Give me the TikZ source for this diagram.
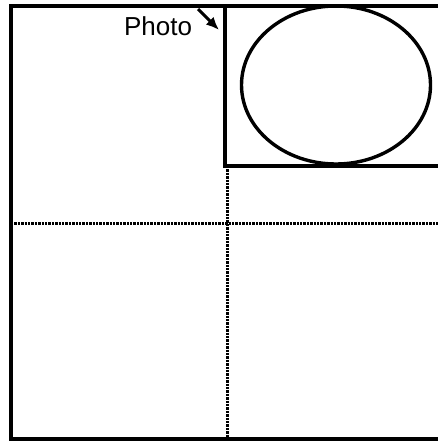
\documentclass[tikz,border=0pt]{standalone}
\usepackage{fontspec}
\setmainfont{Liberation Sans}
\usetikzlibrary{arrows.meta,calc,positioning,shapes.geometric}

\begin{document}
\begin{tikzpicture}[x=1pt,y=-1pt,>={Latex[length=13pt,width=11pt]},
  frame/.style={line width=3.4pt},
  grid/.style={line width=3pt,dash pattern=on 2.4pt off 1pt},
  lbl/.style={font=\fontsize{26}{30}\selectfont,inner sep=0pt}]
\useasboundingbox (0,0) rectangle (438,441);
% outer page and photo frame
\draw[frame] (470,6) -- (11,6) -- (11,439) -- (470,439);
\draw[frame] (225,6) rectangle (470,166);
\node[draw,ellipse,frame,minimum width=189pt,minimum height=158pt]
  (pic) at (336,85) {};
% quarter lines
\coordinate (vtop) at (227,166);
\coordinate (vbot) at (227,439);
\coordinate (hleft) at (11,223);
\coordinate (hright) at (440,223);
\draw[grid] (vtop) -- (vbot);
\draw[grid] (hleft) -- (hright);
% label
\node[lbl] (photo) at (158,26) {Photo};
\coordinate (tail) at (198,9);
\coordinate (tip) at (219,30);
\draw[->,line width=3pt] (tail) -- (tip);
\end{tikzpicture}
\end{document}
